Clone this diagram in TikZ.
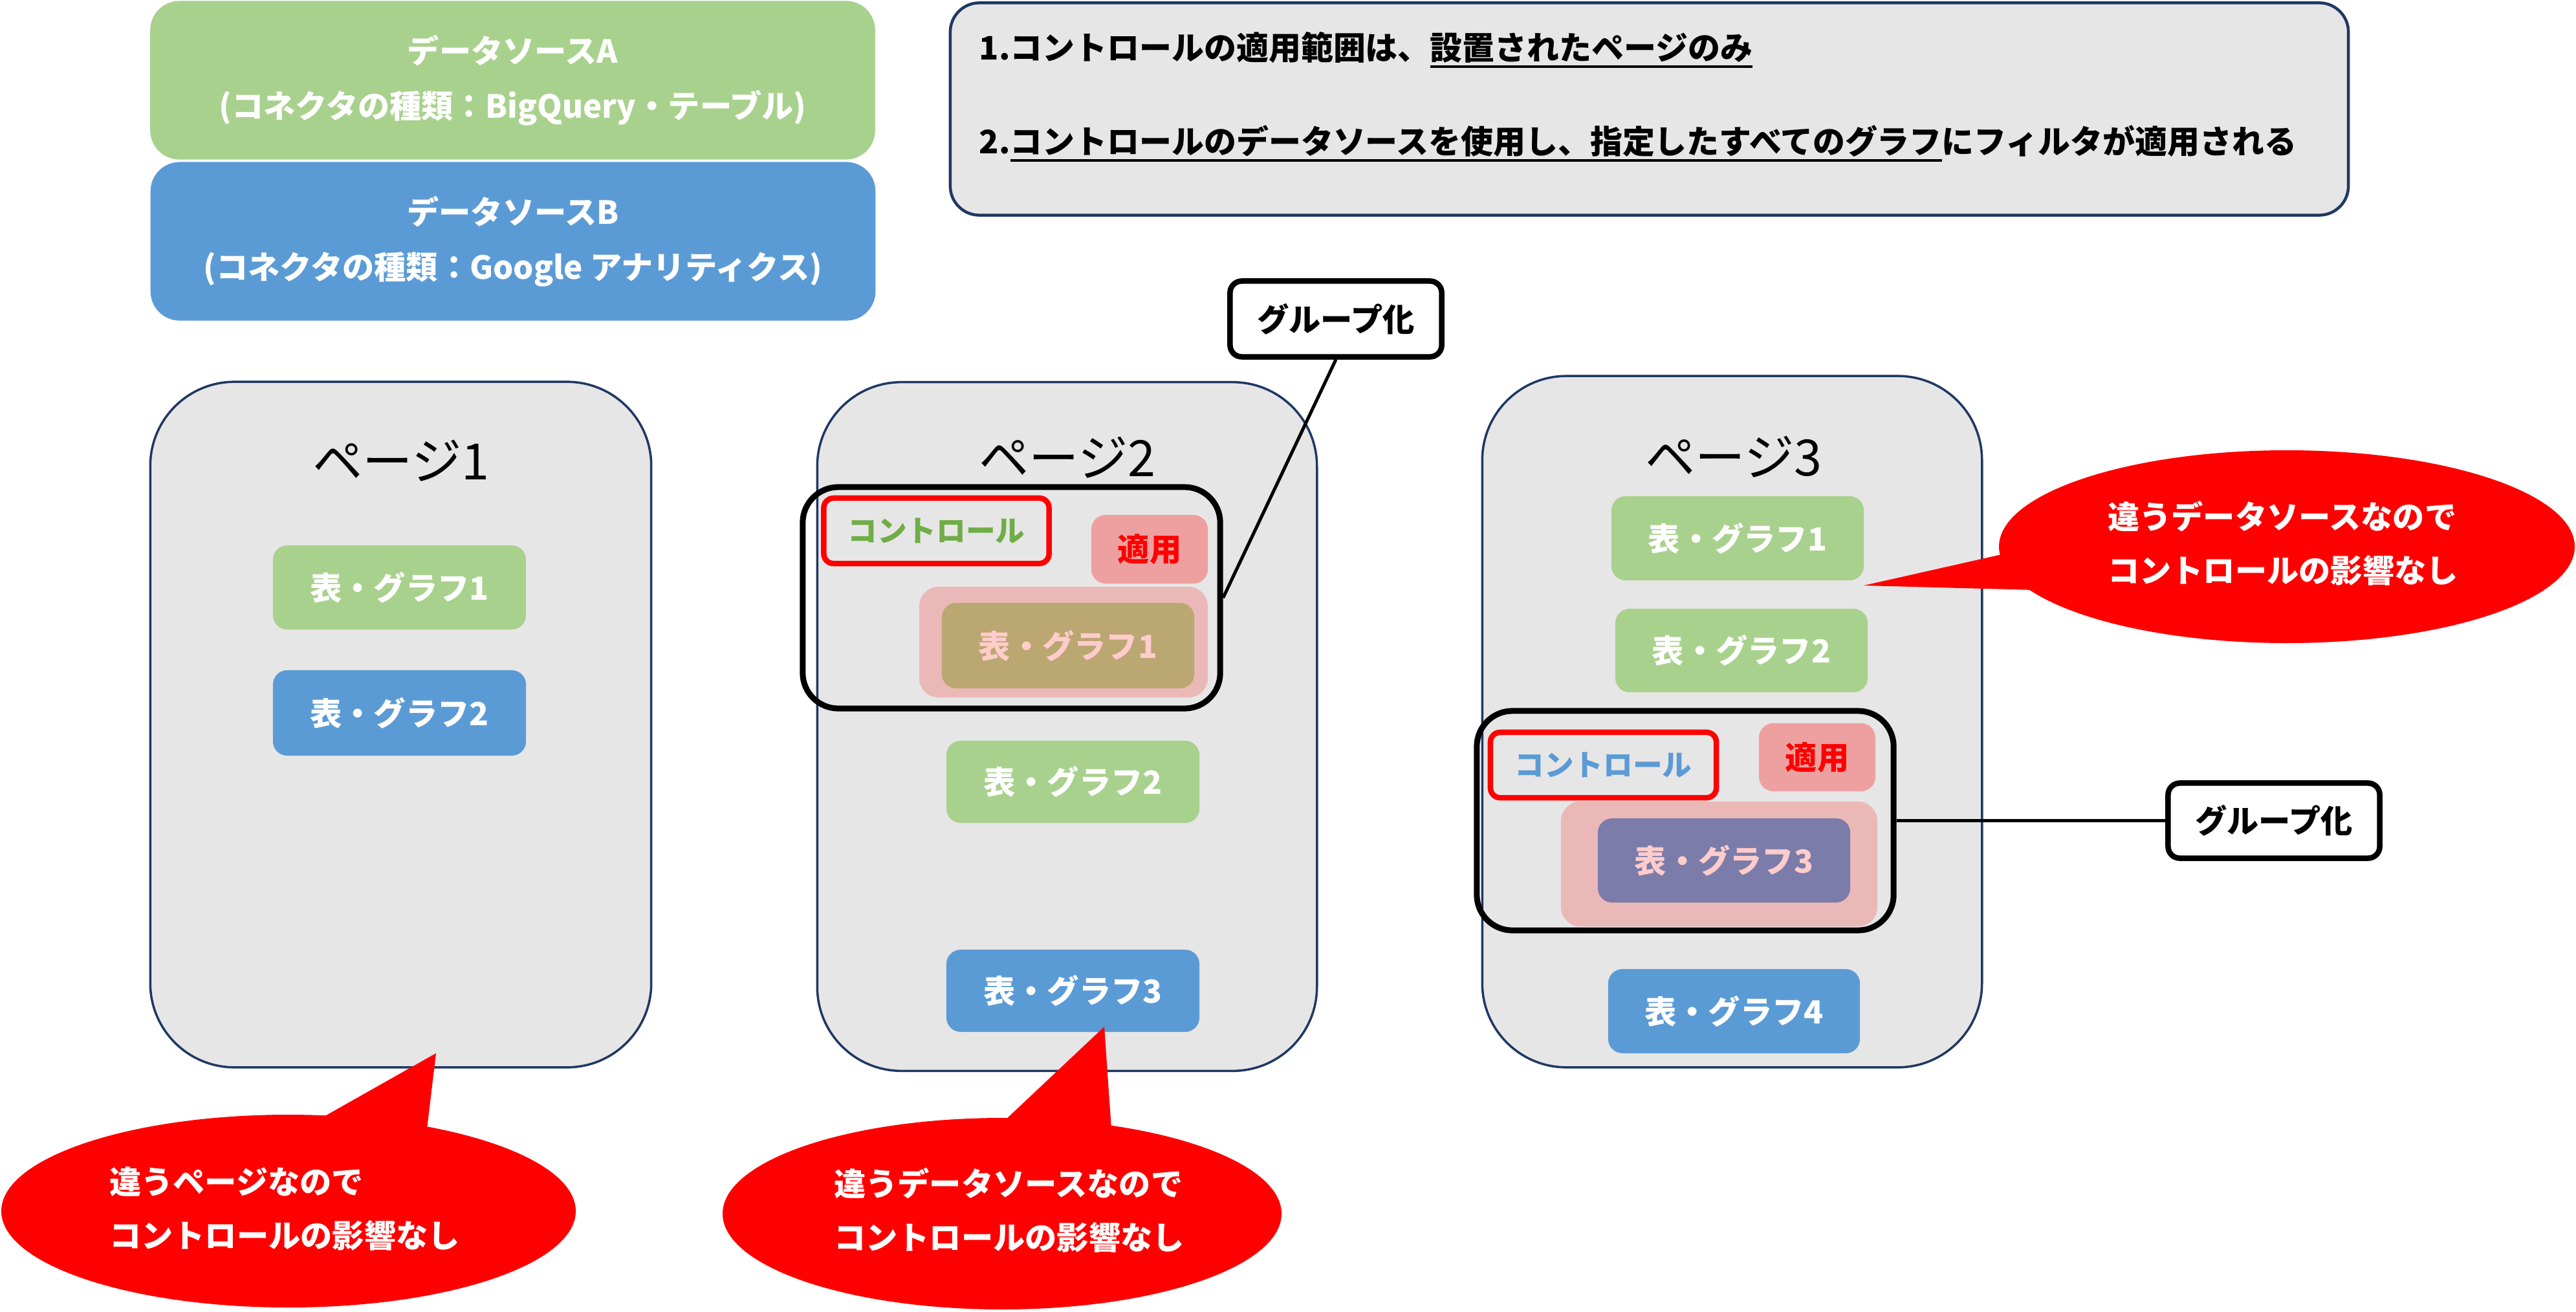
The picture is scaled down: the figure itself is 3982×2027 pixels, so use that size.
\documentclass[tikz,border=0pt]{standalone}
\usepackage{fontspec}
\setmainfont{Noto Sans CJK JP}
\usepackage{tikz}
\usetikzlibrary{positioning}
\definecolor{srcA}{HTML}{A9D18E}
\definecolor{srcB}{HTML}{5B9BD5}
\definecolor{pagegray}{HTML}{E7E6E6}
\definecolor{navy}{HTML}{1F3864}
\definecolor{ctlgreen}{HTML}{70AD47}
\newcommand{\ulbar}[1]{\setbox0=\hbox{#1}\rlap{\rule[-0.12cm]{\wd0}{0.035cm}}\box0}
\tikzset{
  dsbox/.style={rounded corners=0.45cm, minimum width=11.2cm, minimum height=2.45cm,
    text=white, align=center, font=\fontsize{14}{24.2}\selectfont\bfseries},
  notebox/.style={draw=navy, line width=0.045cm, fill=pagegray, rounded corners=0.45cm,
    minimum width=21.6cm, minimum height=3.28cm},
  notetext/.style={inner sep=0pt, font=\fontsize{14.2}{17}\selectfont\bfseries},
  pagebox/.style={draw=navy, line width=0.035cm, fill=pagegray, rounded corners=1.3cm},
  pagetitle/.style={font=\fontsize{22}{26}\selectfont},
  item/.style={rounded corners=0.22cm, minimum width=3.9cm, minimum height=1.3cm,
    inner sep=0pt, text=white, font=\fontsize{14}{17}\selectfont\bfseries},
  itemA/.style={item, fill=srcA},
  itemB/.style={item, fill=srcB},
  hilite/.style={fill=red, fill opacity=0.2, rounded corners=0.3cm},
  usebox/.style={fill=red, fill opacity=0.3, text=red, text opacity=1, rounded corners=0.22cm,
    minimum width=1.8cm, minimum height=1.06cm, font=\fontsize{14}{17}\selectfont\bfseries},
  ctlbox/.style={draw=red, line width=0.085cm, rounded corners=0.15cm,
    minimum width=3.48cm, minimum height=1.01cm, font=\fontsize{13}{16}\selectfont\bfseries},
  grpbox/.style={draw=black, line width=0.09cm, rounded corners=0.55cm},
  grptag/.style={draw=black, line width=0.085cm, fill=white, rounded corners=0.18cm,
    minimum width=3.27cm, minimum height=1.17cm, font=\fontsize{14}{17}\selectfont\bfseries},
  link/.style={draw=black, line width=0.05cm},
  bubble/.style={fill=red},
  bubbletext/.style={text=white, align=left, font=\fontsize{14}{23.6}\selectfont\bfseries}
}

\begin{document}
\begin{tikzpicture}[x=0.01cm, y=-0.01cm]
  \useasboundingbox (0,0) rectangle (3982,2027);

  % data sources
  \node[dsbox, fill=srcA] (dsA) at (792.5,124) {データソースA\\(コネクタの種類：BigQuery・テーブル)};
  \node[dsbox, fill=srcB] (dsB) at (793,373) {データソースB\\(コネクタの種類：Google アナリティクス)};

  % rules
  \node[notebox] (note) at (2549.5,168.5) {};
  \node[notetext, anchor=west] (rule1) at (1513,77) {1.コントロールの適用範囲は、\ulbar{設置されたページのみ}};
  \node[notetext, anchor=west] (rule2) at (1513,222) {2.\ulbar{コントロールのデータソースを使用し、指定したすべてのグラフ}にフィルタが適用される};

  % pages
  \node[pagebox, minimum width=7.74cm, minimum height=10.59cm] (page1) at (619.5,1120) {};
  \node[pagebox, minimum width=7.72cm, minimum height=10.64cm] (page2) at (1649.5,1123) {};
  \node[pagebox, minimum width=7.72cm, minimum height=10.68cm] (page3) at (2677.5,1115.5) {};
  \node[pagetitle] (ttl1) at (620,712) {ページ1};
  \node[pagetitle] (ttl2) at (1650,707) {ページ2};
  \node[pagetitle] (ttl3) at (2680,706) {ページ3};

  % page 1
  \node[itemA, minimum width=3.91cm] (p1g1) at (617.5,908) {表・グラフ1};
  \node[itemB, minimum width=3.91cm, minimum height=1.32cm] (p1g2) at (617.5,1102) {表・グラフ2};

  % page 2
  \node[itemA, minimum height=1.32cm] (p2g1) at (1651,998) {表・グラフ1};
  \node[hilite, minimum width=4.46cm, minimum height=1.71cm] (p2hl) at (1644,992.5) {};
  \node[usebox] (p2use) at (1777,849) {適用};
  \node[ctlbox, text=ctlgreen] (p2ctl) at (1447.5,820.5) {コントロール};
  \node[grpbox, minimum width=6.45cm, minimum height=3.42cm] (p2grp) at (1563.5,924) {};
  \node[itemA, minimum width=3.91cm, minimum height=1.27cm] (p2g2) at (1658.5,1208.5) {表・グラフ2};
  \node[itemB, minimum width=3.91cm, minimum height=1.27cm] (p2g3) at (1658.5,1531.5) {表・グラフ3};
  \node[grptag] (p2tag) at (2065,493) {グループ化};
  \draw[link] (p2tag.south) -- (p2grp.east);

  % page 3
  \node[itemA] (p3g1) at (2686,832) {表・グラフ1};
  \node[itemA, minimum height=1.29cm] (p3g2) at (2692,1005.5) {表・グラフ2};
  \node[itemB] (p3g3) at (2665,1330) {表・グラフ3};
  \node[hilite, minimum width=4.89cm, minimum height=1.93cm] (p3hl) at (2657.5,1335.5) {};
  \node[usebox, minimum height=1.05cm] (p3use) at (2809,1170.5) {適用};
  \node[ctlbox, text=srcB, minimum width=3.49cm] (p3ctl) at (2478.5,1182.5) {コントロール};
  \node[grpbox, minimum width=6.44cm, minimum height=3.39cm] (p3grp) at (2605,1268.5) {};
  \node[itemB, minimum width=3.89cm] (p3g4) at (2680.5,1563) {表・グラフ4};
  \node[grptag, minimum height=1.16cm] (p3tag) at (3515,1268.5) {グループ化};
  \draw[link] (p3grp.east) -- (p3tag.west);

  % callouts
  \fill[bubble] (446,1872) ellipse [x radius=444, y radius=149];
  \fill[bubble] (497,1728) -- (674,1628) -- (660,1745) -- cycle;
  \node[bubbletext] (say1) at (440,1868) {違うページなので\\コントロールの影響なし};

  \fill[bubble] (1549,1876) ellipse [x radius=432, y radius=148];
  \fill[bubble] (1553,1732) -- (1707,1587) -- (1718,1745) -- cycle;
  \node[bubbletext] (say2) at (1560,1871) {違うデータソースなので\\コントロールの影響なし};

  \fill[bubble] (3535,845) ellipse [x radius=445, y radius=149];
  \fill[bubble] (3094,857) -- (2881,905) -- (3145,912) -- cycle;
  \node[bubbletext] (say3) at (3529,840) {違うデータソースなので\\コントロールの影響なし};
\end{tikzpicture}
\end{document}
